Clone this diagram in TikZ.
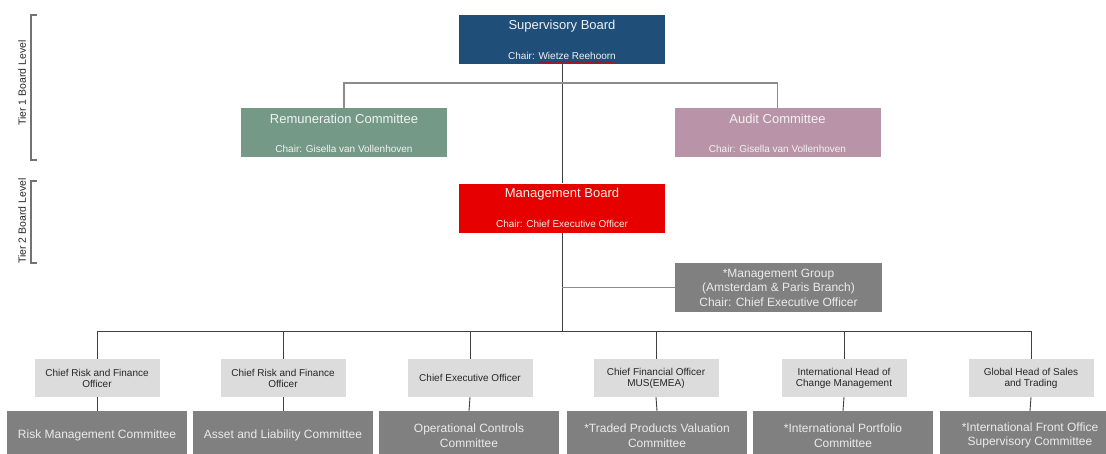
\documentclass[tikz,border=0pt]{standalone}
\usepackage{fontspec}
\setmainfont{Liberation Sans}
\usetikzlibrary{decorations.pathmorphing}
\definecolor{sbblue}{HTML}{1F4E79}
\definecolor{remgreen}{HTML}{749A87}
\definecolor{audpink}{HTML}{B994A8}
\definecolor{mbred}{HTML}{E60000}
\definecolor{cmtgray}{HTML}{808080}
\definecolor{offgray}{HTML}{DCDCDC}
\definecolor{linegray}{HTML}{404040}
\newcommand\boardfont{\fontsize{13}{15}\selectfont}
\newcommand\chairfont{\fontsize{10}{11.5}\selectfont}
\newcommand\groupfont{\fontsize{12}{14.5}\selectfont}
\newcommand\officerfont{\fontsize{10}{11}\selectfont}
\newcommand\cmtfont{\fontsize{12}{14.5}\selectfont}
\newcommand\tierfont{\fontsize{10.5}{12}\selectfont}
\tikzset{%
boardbox/.style={rectangle,inner sep=0pt,minimum width=206pt,minimum height=49pt},
boardtitle/.style={inner sep=0pt,text=white!95!black,font=\boardfont},
boardchair/.style={inner sep=0pt,text=white!95!black,font=\chairfont},
officer/.style={rectangle,fill=offgray,inner sep=0pt,minimum width=125pt,minimum height=38pt,align=center,font=\officerfont,text=black!85},
committee/.style={rectangle,fill=cmtgray,inner sep=0pt,minimum width=180pt,minimum height=49pt,align=center,font=\cmtfont,text=white!92!black},
link/.style={draw=linegray,line width=0.9pt},
toplink/.style={draw=black!45,line width=1.5pt},
tier/.style={rotate=90,font=\tierfont,text=black!85,inner sep=0pt},
bracket/.style={draw=black!55,line width=1.2pt},
}
\tikzset{%
pics/.cd,
chairbox/.style args={#1#2#3#4}{
  code={\node[boardbox,fill=#1] (#4) {};
       \node[boardtitle] (#4-t) at ([yshift=-11pt]#4.north) {#2};
       \node[boardchair] (#4-c) at ([yshift=8.5pt]#4.south) {#3};
  }
},
}
\begin{document}
\begin{tikzpicture}[x=1pt,y=-1pt]
    \useasboundingbox (0,0) rectangle (1106,453);
    % tier brackets
    \draw[bracket] (37,15) -- (31,15) -- (31,160) -- (37,160);
    \draw[bracket] (37,181) -- (31,181) -- (31,263) -- (37,263);
    \node[tier] (tier1) at (22,83) {Tier 1 Board Level};
    \node[tier] (tier2) at (22,221) {Tier 2 Board Level};
    % boards
    \pic at (562,39.5) {chairbox={sbblue}{Supervisory Board}{Chair: Wietze Reehoorn}{sup}};
    \pic at (344,132.5) {chairbox={remgreen}{Remuneration Committee}{Chair: Gisella van Vollenhoven}{rem}};
    \pic at (777.5,132.5) {chairbox={audpink}{Audit Committee}{Chair: Gisella van Vollenhoven}{aud}};
    \pic at (562,208) {chairbox={mbred}{Management Board}{Chair: Chief Executive Officer}{mgb}};
    \draw[red!85!black,line width=0.5pt,decorate,decoration={snake,amplitude=0.7pt,segment length=2.5pt}]
      ([xshift=-23pt,yshift=2pt]sup.south) -- ([xshift=53pt,yshift=2pt]sup.south);
    \node[rectangle,fill=cmtgray,inner sep=0pt,minimum width=207pt,minimum height=49pt,align=center,font=\groupfont,text=white!92!black]
      (mgroup) at (778.5,287.5) {*Management Group\\(Amsterdam \& Paris Branch)\\Chair: Chief Executive Officer};
    % officers
    \node[officer] (off1) at (97,378) {Chief Risk and Finance\\Officer};
    \node[officer] (off2) at (283,378) {Chief Risk and Finance\\Officer};
    \node[officer] (off3) at (470,378) {Chief Executive Officer};
    \node[officer] (off4) at (656,378) {Chief Financial Officer\\MUS(EMEA)};
    \node[officer] (off5) at (844,378) {International Head of\\Change Management};
    \node[officer] (off6) at (1031,378) {Global Head of Sales\\and Trading};
    % committees
    \node[committee] (cmt1) at (97,435.5) {Risk Management Committee};
    \node[committee] (cmt2) at (283,435.5) {Asset and Liability Committee};
    \node[committee] (cmt3) at (469,435.5) {Operational Controls\\Committee};
    \node[committee] (cmt4) at (657,435.5) {*Traded Products Valuation\\Committee};
    \node[committee] (cmt5) at (843,435.5) {*International Portfolio\\Committee};
    \node[committee] (cmt6) at (1030,435.5) {*International Front Office\\Supervisory Committee};
    % connectors
    \coordinate (bus) at (562,331.5);
    \draw[link] (sup.south) -- (mgb.north);
    \draw[toplink] (rem.north) -- ++(0,-25) -| (aud.north);
    \draw[link] (mgb.south) -- (bus);
    \draw[toplink] (mgroup.west) -- (mgroup.west -| bus);
    \foreach \i in {1,...,6}{
      \draw[link] (bus) -| (off\i.north);
      \draw[link] (off\i.south) -- (cmt\i.north);
    }
\end{tikzpicture}
\end{document}
